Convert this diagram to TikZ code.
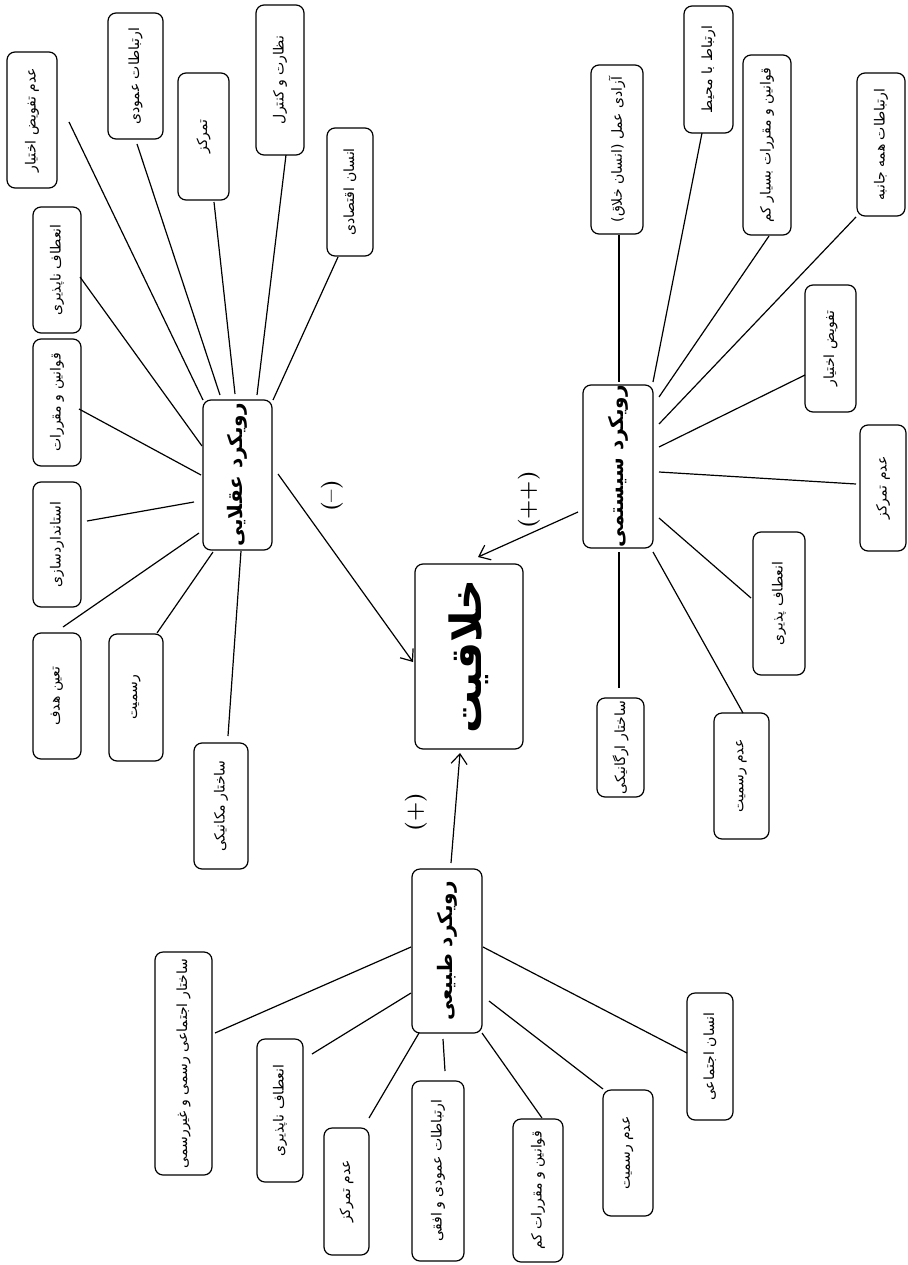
\documentclass[tikz,border=0pt]{standalone}
\usepackage{fontspec}
\usetikzlibrary{arrows.meta}
\TeXXeTstate=1
\newfontfamily\arabicfont[Script=Arabic]{DejaVu Sans}
\newcommand\fa[1]{\beginR #1\endR}
\tikzset{
  box/.style={draw, line width=1.2pt, rounded corners=8pt, rotate=90, inner sep=0pt, align=center,
    font=\arabicfont\fontsize{14}{16}\selectfont},
  mainbox/.style={box, font=\arabicfont\bfseries\fontsize{20}{22}\selectfont},
  centerbox/.style={box, font=\arabicfont\bfseries\fontsize{43}{45}\selectfont},
  conn/.style={line width=1.2pt},
  arr/.style={conn, -{Straight Barb[length=10pt,width=16pt,line width=1.2pt]}},
  sign/.style={rotate=90, inner sep=0pt, font=\bfseries\fontsize{22}{24}\selectfont}
}
\begin{document}
\begin{tikzpicture}[x=1pt,y=-1pt]
\useasboundingbox (0,0) rectangle (907,1265);
% center
\node[centerbox, minimum width=185, minimum height=108] (c0) at (469,656.5) {\fa{خلاقیت}};
% rational approach
\node[mainbox, minimum width=150, minimum height=69] (r0) at (237.5,475) {\fa{رویکرد عقلایی}};
\node[box, minimum width=136, minimum height=50] (r1) at (32,120) {\fa{عدم تفویض اختیار}};
\node[box, minimum width=126, minimum height=55] (r2) at (135.5,76) {\fa{ارتباطات عمودی}};
\node[box, minimum width=127, minimum height=51] (r3) at (203.5,136.5) {\fa{تمرکز}};
\node[box, minimum width=150, minimum height=48] (r4) at (280,80) {\fa{نظارت و کنترل}};
\node[box, minimum width=128, minimum height=46] (r5) at (350,192) {\fa{انسان اقتصادی}};
\node[box, minimum width=126, minimum height=48] (r6) at (57,270) {\fa{انعطاف ناپذیری}};
\node[box, minimum width=127, minimum height=48] (r7) at (57,402.5) {\fa{قوانین و مقررات}};
\node[box, minimum width=125, minimum height=48] (r8) at (57,544.5) {\fa{استانداردسازی}};
\node[box, minimum width=126, minimum height=48] (r9) at (57,696) {\fa{تعین هدف}};
\node[box, minimum width=127, minimum height=54] (r10) at (136,697.5) {\fa{رسمیت}};
\node[box, minimum width=126, minimum height=54] (r11) at (221,806) {\fa{ساختار مکانیکی}};
% systemic approach
\node[mainbox, minimum width=163, minimum height=70] (s0) at (618,466.5) {\fa{رویکرد سیستمی}};
\node[box, minimum width=169, minimum height=52] (s1) at (617,149.5) {\fa{آزادی عمل (انسان خلاق)}};
\node[box, minimum width=127, minimum height=49] (s2) at (708.5,69.5) {\fa{ارتباط با محیط}};
\node[box, minimum width=180, minimum height=48] (s3) at (767,145) {\fa{قوانین و مقررات بسیار کم}};
\node[box, minimum width=143, minimum height=48] (s4) at (881,144.5) {\fa{ارتباطات همه جانبه}};
\node[box, minimum width=127, minimum height=51] (s5) at (830.5,348.5) {\fa{تفویض اختیار}};
\node[box, minimum width=126, minimum height=46] (s6) at (883,488) {\fa{عدم تمرکز}};
\node[box, minimum width=143, minimum height=52] (s7) at (779,603.5) {\fa{انعطاف پذیری}};
\node[box, minimum width=126, minimum height=55] (s8) at (741.5,776) {\fa{عدم رسمیت}};
\node[box, minimum width=99, minimum height=47] (s9) at (620.5,747.5) {\fa{ساختار ارگانیکی}};
% natural approach
\node[mainbox, minimum width=164, minimum height=70] (n0) at (447,951) {\fa{رویکرد طبیعی}};
\node[box, minimum width=223, minimum height=57] (n1) at (183.5,1063.5) {\fa{ساختار اجتماعی رسمی و غیررسمی}};
\node[box, minimum width=143, minimum height=46] (n2) at (280,1110.5) {\fa{انعطاف ناپذیری}};
\node[box, minimum width=127, minimum height=45] (n3) at (346.5,1191.5) {\fa{عدم تمرکز}};
\node[box, minimum width=180, minimum height=52] (n4) at (438,1171) {\fa{ارتباطات عمودی و افقی}};
\node[box, minimum width=143, minimum height=50] (n5) at (538,1190.5) {\fa{قوانین و مقررات کم}};
\node[box, minimum width=126, minimum height=50] (n6) at (628,1153) {\fa{عدم رسمیت}};
\node[box, minimum width=127, minimum height=46] (n7) at (710,1056.5) {\fa{انسان اجتماعی}};
% signs
\node[sign] (lm) at (332,496) {(--)};
\node[sign] (lp) at (416,812) {(+)};
\node[sign] (lpp) at (529,500) {(++)};
% connector ends
\coordinate (r1a) at (69,122);  \coordinate (r1b) at (203,400);
\coordinate (r2a) at (137,144); \coordinate (r2b) at (220,395);
\coordinate (r3a) at (214,202); \coordinate (r3b) at (235,394);
\coordinate (r4a) at (286,155); \coordinate (r4b) at (257,395);
\coordinate (r5a) at (338,257); \coordinate (r5b) at (273,400);
\coordinate (r6a) at (80,277);  \coordinate (r6b) at (202,446);
\coordinate (r7a) at (79,409);  \coordinate (r7b) at (201,475);
\coordinate (r8a) at (87,521);  \coordinate (r8b) at (194,502);
\coordinate (r9a) at (63,627);  \coordinate (r9b) at (199,533);
\coordinate (r10a) at (157,633); \coordinate (r10b) at (213,552);
\coordinate (r11a) at (228,736); \coordinate (r11b) at (241,551);
\coordinate (s1a) at (619,235); \coordinate (s1b) at (619,382);
\coordinate (s2a) at (702,133); \coordinate (s2b) at (653,382);
\coordinate (s3a) at (769,236); \coordinate (s3b) at (659,397);
\coordinate (s4a) at (856,217); \coordinate (s4b) at (659,424);
\coordinate (s5a) at (805,375); \coordinate (s5b) at (659,447);
\coordinate (s6a) at (856,484); \coordinate (s6b) at (659,472);
\coordinate (s7a) at (751,598); \coordinate (s7b) at (659,518);
\coordinate (s8a) at (743,713); \coordinate (s8b) at (653,552);
\coordinate (s9a) at (619,688); \coordinate (s9b) at (619,552);
\coordinate (n1a) at (215,1033); \coordinate (n1b) at (411,947);
\coordinate (n2a) at (312,1054); \coordinate (n2b) at (411,993);
\coordinate (n3a) at (369,1118); \coordinate (n3b) at (419,1033);
\coordinate (n4a) at (445,1071); \coordinate (n4b) at (443,1039);
\coordinate (n5a) at (542,1118); \coordinate (n5b) at (482,1033);
\coordinate (n6a) at (603,1089); \coordinate (n6b) at (489,1001);
\coordinate (n7a) at (687,1053); \coordinate (n7b) at (483,947);
\coordinate (ar1) at (278,474); \coordinate (ar2) at (413,662);
\coordinate (as1) at (578,512); \coordinate (as2) at (478,557);
\coordinate (an1) at (451,863); \coordinate (an2) at (460,753);
\foreach \c in {r1,r2,r3,r4,r5,r6,r7,r8,r9,r10,r11,s1,s2,s3,s4,s5,s6,s7,s8,s9,n1,n2,n3,n4,n5,n6,n7}
  \draw[conn] (\c a) -- (\c b);
\draw[arr] (ar1) -- (ar2);
\draw[arr] (as1) -- (as2);
\draw[arr] (an1) -- (an2);
\end{tikzpicture}
\end{document}
